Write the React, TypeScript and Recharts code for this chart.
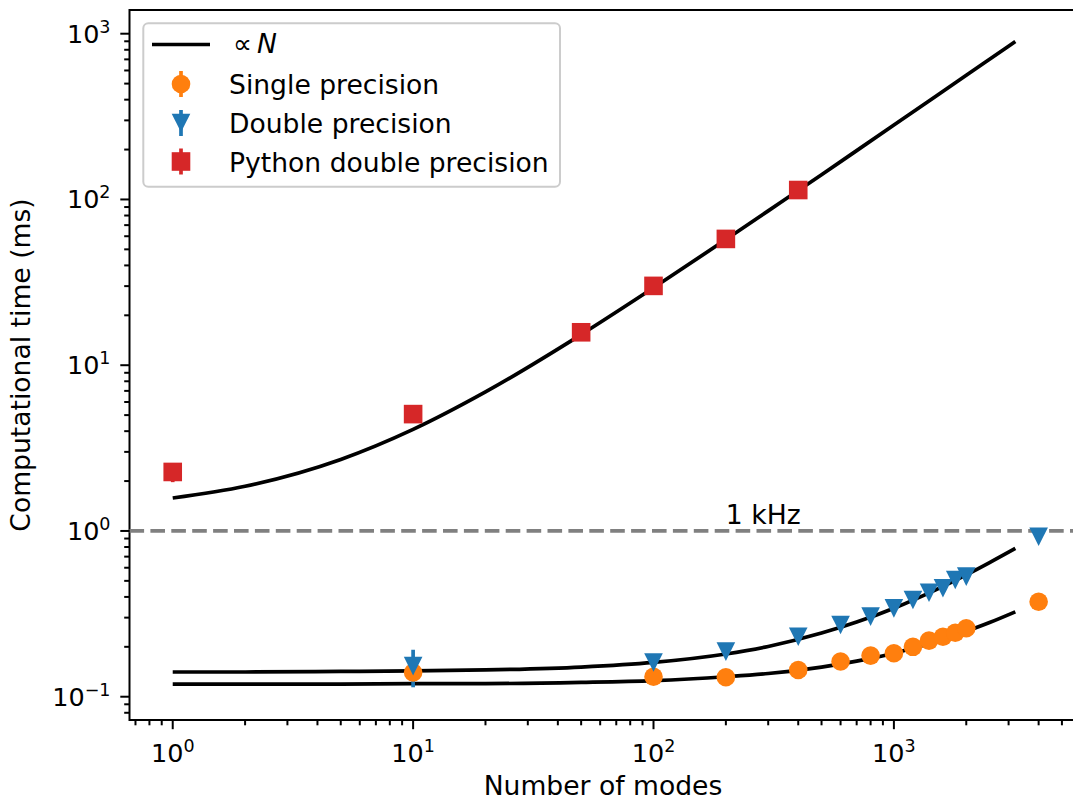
import React from 'react';
import {
  ComposedChart,
  Line,
  Scatter,
  XAxis,
  YAxis,
  ErrorBar,
  ReferenceLine,
  ReferenceArea,
} from 'recharts';

// ---------- data ----------
const fitN = [1, 2, 5, 10, 20, 50, 100, 200, 300, 500, 700, 1000, 1500, 2000, 2500, 3200];
const fitPython = [1.58, 1.86, 2.7, 4.1, 6.9, 15.3, 29.3, 57.3, 85.3, 141, 197, 281, 421, 561, 701, 897];
const fitDouble = [0.141, 0.141, 0.142, 0.143, 0.145, 0.151, 0.161, 0.181, 0.201, 0.242, 0.282, 0.342, 0.443, 0.543, 0.644, 0.784];
const fitSingle = [0.119, 0.119, 0.119, 0.12, 0.12, 0.122, 0.125, 0.132, 0.138, 0.151, 0.164, 0.183, 0.215, 0.248, 0.28, 0.325];

const gpuN = [10, 100, 200, 400, 600, 800, 1000, 1200, 1400, 1600, 1800, 2000, 4000];
const singleTime = [0.14, 0.132, 0.131, 0.145, 0.163, 0.177, 0.183, 0.2, 0.218, 0.23, 0.243, 0.259, 0.374];
const singleErr = [0, 0, 0, 0, 0, 0, 0, 0, 0, 0, 0, 0, 0];
const doubleTime = [0.153, 0.161, 0.187, 0.23, 0.271, 0.304, 0.341, 0.383, 0.424, 0.451, 0.506, 0.53, 0.923];
const doubleErr = [0.039, 0, 0, 0, 0, 0, 0, 0, 0, 0, 0, 0, 0];

const pythonN = [1, 10, 50, 100, 200, 400];
const pythonTime = [2.27, 5.07, 15.8, 30.1, 57.8, 114];
const pythonErr = [0.3, 0, 0, 0, 0, 0];

const kHzLine = 1;
const kHzLabelN = 200;
const kHzLabel = '1 kHz';

const xDomain = [0.661, 5667];
const yDomain = [0.07236, 1390];
const xTicks = [0.7, 0.8, 0.9, 1, 2, 3, 4, 5, 6, 7, 8, 9, 10, 20, 30, 40, 50, 60, 70, 80, 90, 100, 200, 300, 400, 500, 600, 700, 800, 900, 1000, 2000, 3000, 4000, 5000];
const yTicks = [0.08, 0.09, 0.1, 0.2, 0.3, 0.4, 0.5, 0.6, 0.7, 0.8, 0.9, 1, 2, 3, 4, 5, 6, 7, 8, 9, 10, 20, 30, 40, 50, 60, 70, 80, 90, 100, 200, 300, 400, 500, 600, 700, 800, 900, 1000];

const xLabel = 'Number of modes';
const yLabel = 'Computational time (ms)';
const legendLabels = ['\u221D', 'Single precision', 'Double precision', 'Python double precision'];

// ---------- styles ----------
const FONT = '"DejaVu Sans", Verdana, sans-serif';
const FS = 26.6;
const TFS = 25.5;
const SUP = 17.5;
const ORANGE = '#ff7f0e';
const BLUE = '#1f77b4';
const RED = '#d62728';
const LW = 3.7;
const MS = 9.3;

const fitData = (ys: number[]) => fitN.map((x, i) => ({ x, y: ys[i] }));
const ptData = (xs: number[], ys: number[], es: number[]) => xs.map((x, i) => ({ x, y: ys[i], err: es[i] }));

const isMajor = (v: number) => {
  const lg = Math.log10(v);
  return Math.abs(lg - Math.round(lg)) < 1e-6;
};
const expText = (v: number) => {
  const e = Math.round(Math.log10(v));
  return e < 0 ? '\u2212' + Math.abs(e) : String(e);
};

const XTick = (props: any) => {
  const { x, y, payload } = props;
  const v = payload.value;
  const major = isMajor(v);
  return (
    <g>
      <line x1={x} x2={x} y1={y} y2={y + (major ? 9.2 : 5.3)} stroke="#000" strokeWidth={2} />
      {major && (
        <text x={x} y={y + 42} textAnchor="middle" fontFamily={FONT} fontSize={TFS} fill="#000">
          10
          <tspan dy={-10} fontSize={SUP}>{expText(v)}</tspan>
        </text>
      )}
    </g>
  );
};

const YTick = (props: any) => {
  const { x, y, payload } = props;
  const v = payload.value;
  const major = isMajor(v);
  return (
    <g>
      <line x1={x} x2={x - (major ? 9.2 : 5.3)} y1={y} y2={y} stroke="#000" strokeWidth={2} />
      {major && (
        <text x={x - 19} y={y + 9} textAnchor="end" fontFamily={FONT} fontSize={TFS} fill="#000">
          10
          <tspan dy={-10} fontSize={SUP}>{expText(v)}</tspan>
        </text>
      )}
    </g>
  );
};

const CircleShape = (p: any) => <circle cx={p.cx} cy={p.cy} r={MS} fill={ORANGE} />;
const TriDownShape = (p: any) => (
  <path d={`M${p.cx - MS},${p.cy - MS}L${p.cx + MS},${p.cy - MS}L${p.cx},${p.cy + MS}Z`} fill={BLUE} />
);
const SquareShape = (p: any) => <rect x={p.cx - MS} y={p.cy - MS} width={2 * MS} height={2 * MS} fill={RED} />;
const KHzText = (p: any) => (
  <text x={p.cx} y={p.cy - 6.5} textAnchor="start" fontFamily={FONT} fontSize={FS} fill="#000">
    {kHzLabel}
  </text>
);

const Legend = () => (
  <svg width={1073} height={801} style={{ position: 'absolute', left: 0, top: 0, pointerEvents: 'none' }}>
    <rect x={143.3} y={23.3} width={416.7} height={163.4} rx={5} ry={5} fill="#fff" fillOpacity={0.8} stroke="#cccccc" strokeWidth={2} />
    <line x1={152} x2={210} y1={44.5} y2={44.5} stroke="#000" strokeWidth={LW} />
    <text y={53} fontFamily={FONT} fontSize={FS} fill="#000">
      <tspan x={233}>{legendLabels[0]}</tspan>
      <tspan x={257} fontStyle="italic">N</tspan>
    </text>

    <line x1={181} x2={181} y1={71} y2={97} stroke={ORANGE} strokeWidth={LW} />
    <circle cx={181} cy={84} r={MS} fill={ORANGE} />
    <text x={229} y={93.5} fontFamily={FONT} fontSize={FS} fill="#000">{legendLabels[1]}</text>

    <line x1={181} x2={181} y1={110} y2={136} stroke={BLUE} strokeWidth={LW} />
    <path d={`M${181 - MS},${123 - MS}L${181 + MS},${123 - MS}L181,${123 + MS}Z`} fill={BLUE} />
    <text x={229} y={132.5} fontFamily={FONT} fontSize={FS} fill="#000">{legendLabels[2]}</text>

    <line x1={181} x2={181} y1={148.5} y2={174.5} stroke={RED} strokeWidth={LW} />
    <rect x={181 - MS} y={161.5 - MS} width={2 * MS} height={2 * MS} fill={RED} />
    <text x={229} y={171.5} fontFamily={FONT} fontSize={FS} fill="#000">{legendLabels[3]}</text>
  </svg>
);

export default function App() {
  return (
    <div style={{ position: 'absolute', left: 0, top: 0, width: 1073, height: 801, overflow: 'hidden', background: '#fff' }}>
      <ComposedChart width={1090} height={801} margin={{ top: 10, right: 15, bottom: 0, left: 0 }}>
        <XAxis
          type="number"
          dataKey="x"
          scale="log"
          domain={xDomain}
          allowDataOverflow
          ticks={xTicks}
          interval={0}
          tick={<XTick />}
          tickLine={false}
          axisLine={false}
          tickSize={0}
          tickMargin={0}
          height={81}
          label={{
            content: () => (
              <text x={603} y={795} textAnchor="middle" fontFamily={FONT} fontSize={FS} fill="#000">{xLabel}</text>
            ),
          }}
        />
        <YAxis
          type="number"
          dataKey="y"
          scale="log"
          domain={yDomain}
          allowDataOverflow
          ticks={yTicks}
          interval={0}
          tick={<YTick />}
          tickLine={false}
          axisLine={false}
          tickSize={0}
          tickMargin={0}
          width={129.5}
          label={{
            content: () => (
              <text x={30} y={365} transform="rotate(-90, 30, 365)" textAnchor="middle" fontFamily={FONT} fontSize={FS} fill="#000">{yLabel}</text>
            ),
          }}
        />
        <ReferenceArea x1={xDomain[0]} x2={xDomain[1]} y1={yDomain[0]} y2={yDomain[1]} fill="none" stroke="#000" strokeWidth={2} />
        <ReferenceLine y={kHzLine} stroke="#808080" strokeWidth={LW} strokeDasharray="14.6 6.3" />
        <Line data={fitData(fitPython)} dataKey="y" type="monotone" stroke="#000" strokeWidth={LW} dot={false} isAnimationActive={false} />
        <Line data={fitData(fitDouble)} dataKey="y" type="monotone" stroke="#000" strokeWidth={LW} dot={false} isAnimationActive={false} />
        <Line data={fitData(fitSingle)} dataKey="y" type="monotone" stroke="#000" strokeWidth={LW} dot={false} isAnimationActive={false} />
        <Scatter data={ptData(gpuN, singleTime, singleErr)} dataKey="y" shape={<CircleShape />} isAnimationActive={false}>
          <ErrorBar dataKey="err" direction="y" width={0} stroke={ORANGE} strokeWidth={LW} />
        </Scatter>
        <Scatter data={ptData(gpuN, doubleTime, doubleErr)} dataKey="y" shape={<TriDownShape />} isAnimationActive={false}>
          <ErrorBar dataKey="err" direction="y" width={0} stroke={BLUE} strokeWidth={LW} />
        </Scatter>
        <Scatter data={ptData(pythonN, pythonTime, pythonErr)} dataKey="y" shape={<SquareShape />} isAnimationActive={false}>
          <ErrorBar dataKey="err" direction="y" width={0} stroke={RED} strokeWidth={LW} />
        </Scatter>
        <Scatter data={[{ x: kHzLabelN, y: kHzLine }]} dataKey="y" shape={<KHzText />} isAnimationActive={false} />
      </ComposedChart>
      <Legend />
    </div>
  );
}
